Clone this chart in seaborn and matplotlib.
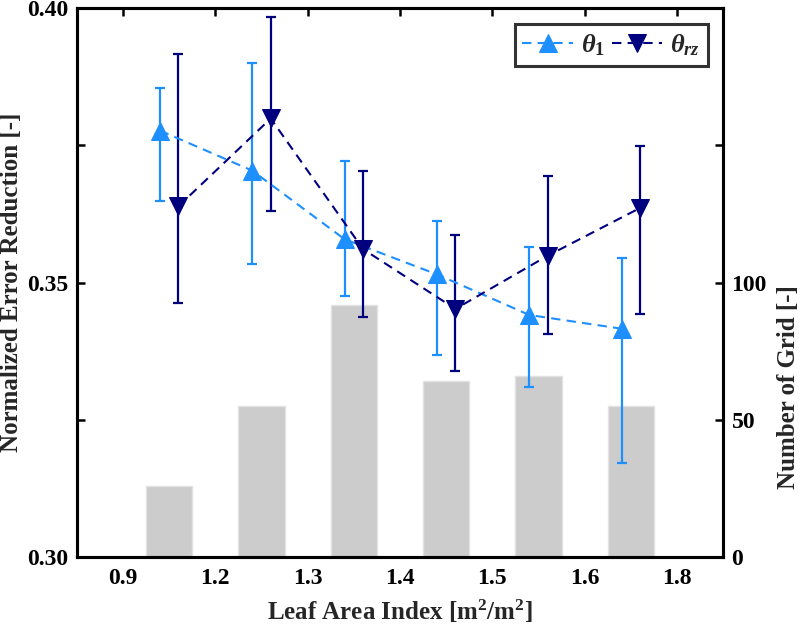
from matplotlib import pyplot as plt
import pandas as pd
import seaborn as sns
import numpy as np

# values
lai_labels = ['0.9', '1.2', '1.3', '1.4', '1.5', '1.6', '1.8']
grid_count = [26, 55, 92, 64, 66, 55]

theta1 = [0.3777, 0.3704, 0.3579, 0.3515, 0.3441, 0.3416]
theta1_lo = [0.3649, 0.3534, 0.3476, 0.3368, 0.3309, 0.3171]
theta1_hi = [0.3854, 0.3900, 0.3721, 0.3613, 0.3564, 0.3544]

theta_rz = [0.3639, 0.3799, 0.3561, 0.3452, 0.3549, 0.3636]
theta_rz_lo = [0.3462, 0.3631, 0.3437, 0.3339, 0.3406, 0.3443]
theta_rz_hi = [0.3916, 0.3983, 0.3704, 0.3586, 0.3695, 0.3748]

left_ticks = [0.30, 0.325, 0.35, 0.375, 0.40]
left_labels = ['0.30', '', '0.35', '', '0.40']
right_ticks = [0, 50, 100, 150, 200]
right_labels = ['0', '50', '100', '', '']

sns.set_style('white')
plt.rcParams['font.family'] = ['Liberation Serif', 'DejaVu Serif']
plt.rcParams['font.weight'] = 'bold'
plt.rcParams['mathtext.fontset'] = 'custom'
plt.rcParams['mathtext.rm'] = 'Liberation Serif'
plt.rcParams['mathtext.it'] = 'Liberation Serif:italic'
plt.rcParams['mathtext.bf'] = 'Liberation Serif:bold'

LIGHT = '#1E8FFF'
DARK = '#00007F'

fig = plt.figure(figsize=(8, 6.28), dpi=100)
ax = fig.add_axes([0.096, 0.113, 0.808, 0.874])
ax2 = ax.twinx()
# lines in front of the bars
ax.set_zorder(ax2.get_zorder() + 1)
ax.patch.set_visible(False)

bins = np.arange(len(grid_count)) + 0.5

# bars: number of grid cells (right axis)
bars = pd.DataFrame({'lai': bins, 'n': grid_count})
sns.barplot(data=bars, x='lai', y='n', native_scale=True, width=0.5,
            color='#cccccc', saturation=1, edgecolor='#e2e2e2', linewidth=1, ax=ax2)

# error reduction series (left axis)
series = [
    (r'$\theta_{\mathit{1}}$', theta1, theta1_lo, theta1_hi, -0.1, LIGHT, '^'),
    (r'$\theta_{rz}$', theta_rz, theta_rz_lo, theta_rz_hi, 0.1, DARK, 'v'),
]
for name, vals, lo, hi, off, col, mk in series:
    vals, lo, hi = np.array(vals), np.array(lo), np.array(hi)
    ax.errorbar(bins + off, vals, yerr=[vals - lo, hi - vals], fmt='none',
                ecolor=col, elinewidth=1.6, capsize=3.3, capthick=1.6, zorder=2)
    d = pd.DataFrame({'lai': bins + off, 'v': vals})
    sns.lineplot(data=d, x='lai', y='v', ax=ax, color=col, marker=mk,
                 markersize=13.5, markeredgecolor=col, linewidth=1.5,
                 linestyle=(0, (4.5, 3)), label=name, zorder=3)

ax.set_xlim(-0.5, 6.5)
ax.set_xticks(range(len(lai_labels)))
ax.set_xticklabels(lai_labels)
ax.set_ylim(0.30, 0.40)
ax.set_yticks(left_ticks)
ax.set_yticklabels(left_labels)
ax2.set_ylim(0, 200)
ax2.set_yticks(right_ticks)
ax2.set_yticklabels(right_labels)

for a in (ax, ax2):
    a.tick_params(direction='in', length=5.5, width=1.8, labelsize=17,
                  top=True, colors='black')
    for s in a.spines.values():
        s.set_linewidth(2.2)
        s.set_color('black')
ax.tick_params(axis='y', right=False, pad=6)
ax2.tick_params(axis='y', left=False, pad=6)
ax.tick_params(axis='x', pad=8)

ax.set_xlabel(r'Leaf Area Index [m$^{\mathbf{2}}$/m$^{\mathbf{2}}$]',
              fontsize=18, fontweight='bold', labelpad=6)
ax.set_ylabel('Normalized Error Reduction [-]', fontsize=18, fontweight='bold', labelpad=3)
ax2.set_xlabel('')
ax2.set_ylabel('Number of Grid [-]', fontsize=18, fontweight='bold', labelpad=7)
ax2.yaxis.label.set_y(0.31)

leg = ax.legend(loc='upper right', ncol=2, fontsize=19, frameon=True,
                fancybox=False, handlelength=1.9, handletextpad=0.3,
                columnspacing=0.3, borderpad=0.3, borderaxespad=0,
                bbox_to_anchor=(0.977, 0.971))
leg.get_frame().set_edgecolor('black')
leg.get_frame().set_linewidth(2.2)

fig.savefig('out.png', dpi=100)
